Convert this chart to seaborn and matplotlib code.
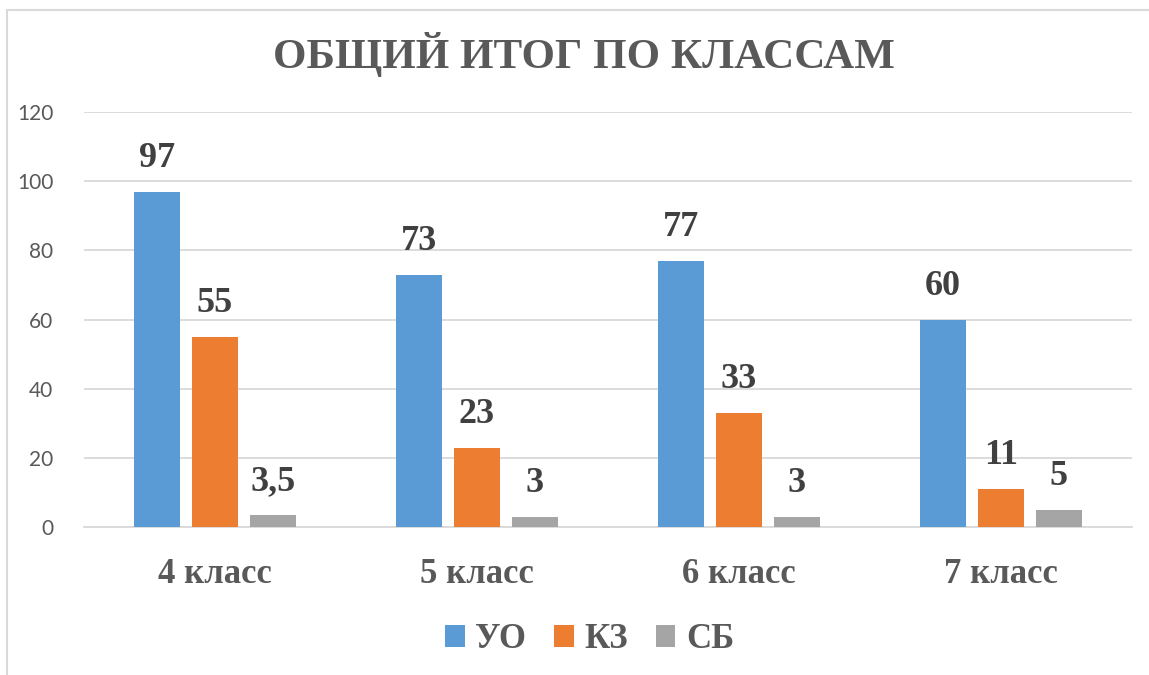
import matplotlib
matplotlib.use("Agg")
import matplotlib.pyplot as plt
import matplotlib.lines as mlines
import seaborn as sns
import pandas as pd

# данные
классы = ["4 класс", "5 класс", "6 класс", "7 класс"]
уо = [97, 73, 77, 60]
кз = [55, 23, 33, 11]
сб = [3.5, 3, 3, 5]
серии = ["УО", "КЗ", "СБ"]
цвета = ["#5B9BD5", "#ED7D31", "#A5A5A5"]

df = pd.DataFrame({"Класс": классы * 3,
                   "Серия": [серии[0]] * 4 + [серии[1]] * 4 + [серии[2]] * 4,
                   "Значение": уо + кз + сб})

sns.set_style("white")
plt.rcParams['font.family'] = ['Liberation Serif', 'DejaVu Serif']

fig = plt.figure(figsize=(11.49, 6.75), dpi=100)
ax = fig.add_axes([0.073, 0.219, 0.912, 0.615])

sns.barplot(data=df, x="Класс", y="Значение", hue="Серия", palette=цвета,
            saturation=1, width=0.664, gap=0.2, ax=ax, zorder=3, legend=True, linewidth=0)

# подписи данных
for cont in ax.containers:
    labels = [("%g" % v.get_height()).replace(".", ",") for v in cont]
    ax.bar_label(cont, labels=labels, padding=12, fontsize=26, fontweight="bold",
                 color="#404040", family="Liberation Serif")

ax.set_ylim(0, 120)
ax.set_yticks(range(0, 121, 20))
ax.set_xlim(-0.5, 3.5)
ax.grid(axis="y", color="#D9D9D9", linewidth=1.3, zorder=0)
for s in ["top", "right", "left"]:
    ax.spines[s].set_visible(False)
ax.spines["bottom"].set_color("#D9D9D9")
ax.spines["bottom"].set_linewidth(1.3)
ax.tick_params(axis="y", length=0, pad=22, labelsize=15, labelcolor="#595959")
ax.tick_params(axis="x", length=0, pad=22, labelsize=25, labelcolor="#595959")
for t in ax.get_yticklabels():
    t.set_family("Lato")
for t in ax.get_xticklabels():
    t.set_fontweight("bold")
ax.set_xlabel("")
ax.set_ylabel("")

fig.suptitle("ОБЩИЙ ИТОГ ПО КЛАССАМ", x=0.508, y=0.952, fontsize=31,
             fontweight="bold", color="#595959")

leg = ax.legend(loc="center", bbox_to_anchor=(0.513, 0.052), bbox_transform=fig.transFigure,
                ncol=3, frameon=False, handlelength=0.57, handleheight=0.57,
                handletextpad=0.3, columnspacing=0.8,
                prop={"family": "Liberation Serif", "weight": "bold", "size": 25})
for t in leg.get_texts():
    t.set_color("#595959")

# рамка диаграммы
fig.add_artist(mlines.Line2D([7 / 1149, 1], [1 - 10 / 675, 1 - 10 / 675],
                             color="#D9D9D9", lw=1.5, transform=fig.transFigure))
fig.add_artist(mlines.Line2D([7 / 1149, 7 / 1149], [0, 1 - 10 / 675],
                             color="#D9D9D9", lw=1.5, transform=fig.transFigure))

fig.savefig("out.png", dpi=100)
